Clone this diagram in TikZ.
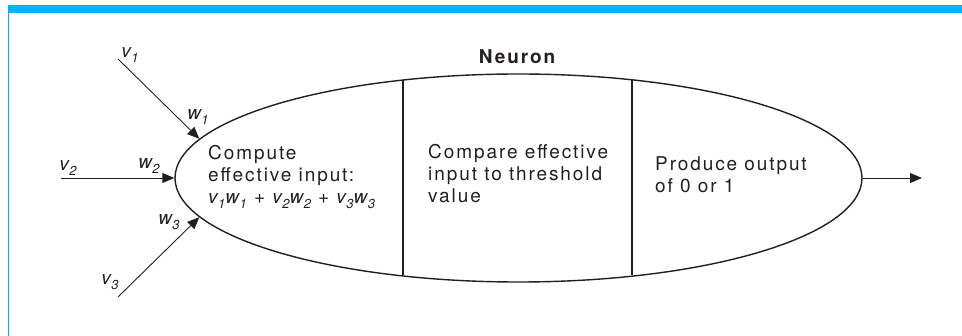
\documentclass[tikz,border=0pt]{standalone}
\usepackage{fontspec}
\setmainfont{TeX Gyre Heros}[LetterSpace=10]
\usetikzlibrary{shapes.geometric,arrows.meta}
\definecolor{framecyan}{RGB}{0,180,240}
\definecolor{ink}{RGB}{35,31,32}
\newcommand\vw[2]{\textit{#1\kern0.5pt\raisebox{-5pt}{\fontsize{13}{13}\selectfont #2}}}
\begin{document}
\begin{tikzpicture}[x=1pt,y=-1pt,
  txt/.style={font=\fontsize{19}{22}\selectfont, text=ink, inner sep=0pt},
  lbl/.style={font=\fontsize{19}{20}\selectfont, text=ink, inner sep=0pt},
  inarrow/.style={draw=ink, line width=0.9pt, -{Triangle[length=12pt,width=10pt]}},
  divider/.style={draw=ink, line width=1.4pt}]
\useasboundingbox (0,0) rectangle (962,336);
% frame
\fill[framecyan] (8,5.5) rectangle (962,13);
\fill[framecyan] (7.5,5.5) rectangle (9,336);
% neuron body
\node[ellipse, draw=ink, line width=1.4pt, minimum width=687pt, minimum height=208pt, inner sep=0pt] (neuron) at (518.5,178) {};
\draw[divider] (403,80.5) -- (403,275.5);
\draw[divider] (632,80.5) -- (632,275.5);
\node[font=\bfseries\fontsize{19}{20}\selectfont, text=ink, inner sep=0pt] (title) at (517,57) {Neuron};
% texts
\node[txt, align=left, anchor=north west] (t1) at (208,145.5) {Compute\\effective input:\\\vw{v}{1}\vw{w}{1} + \vw{v}{2}\vw{w}{2} + \vw{v}{3}\vw{w}{3}};
\node[txt, align=left, anchor=north west] (t2) at (428,144.5) {Compare effective\\input to threshold\\value};
\node[txt, align=left, anchor=north west] (t3) at (655,156) {Produce output\\of 0 or 1};
% inputs
\coordinate (v1s) at (118,59);
\coordinate (v2s) at (61,178);
\coordinate (v3s) at (118,297);
\coordinate (outend) at (922,178);
\draw[inarrow] (v1s) -- (neuron.173.4);
\draw[inarrow] (v2s) -- (neuron.180);
\draw[inarrow] (v3s) -- (neuron.187);
\draw[inarrow] (neuron.0) -- (outend);
% labels
\node[lbl] (lv1) at (130,55) {\vw{v}{1}};
\node[lbl] (lw1) at (198,117) {\vw{w}{1}};
\node[lbl] (lv2) at (68,168) {\vw{v}{2}};
\node[lbl] (lw2) at (149,166) {\vw{w}{2}};
\node[lbl] (lw3) at (169,222) {\vw{w}{3}};
\node[lbl] (lv3) at (110,282) {\vw{v}{3}};
\end{tikzpicture}
\end{document}
